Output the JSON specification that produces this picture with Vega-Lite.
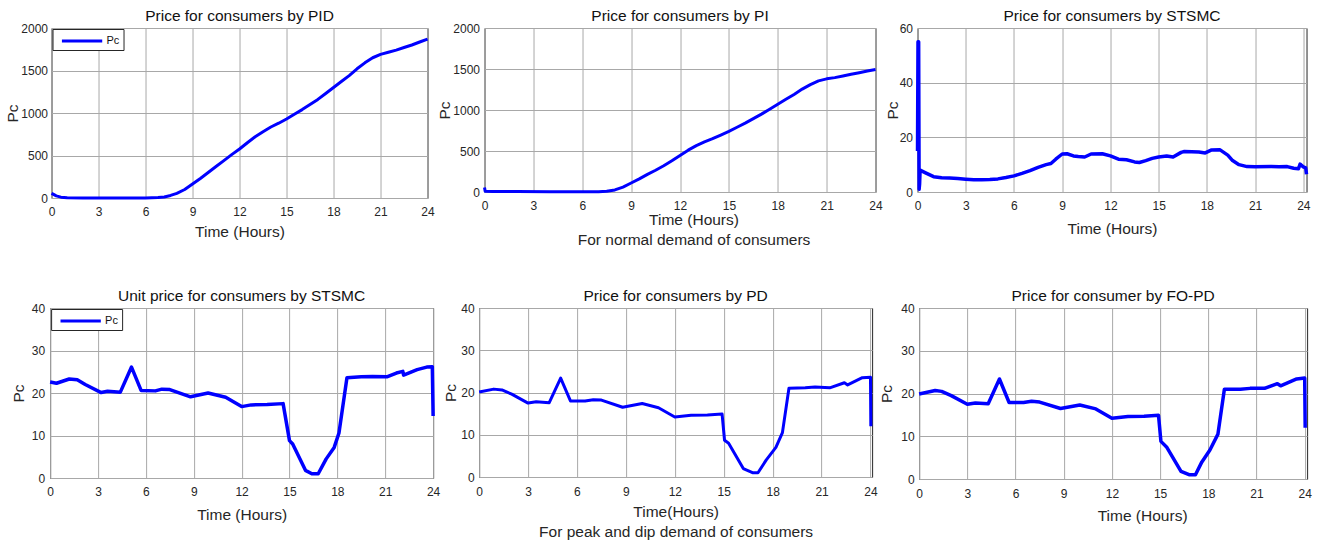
{
  "$schema": "https://vega.github.io/schema/vega-lite/v6.json",
  "background": "white",
  "padding": {"left": 5, "top": 8, "right": 2, "bottom": 2},
  "config": {
    "font": "Liberation Sans",
    "view": {"stroke": "#262626", "strokeWidth": 1},
    "axis": {
      "grid": true, "gridColor": "#a8a8a8", "gridWidth": 1,
      "domain": false, "ticks": false, "format": "d",
      "labelFontSize": 12, "labelColor": "#262626", "labelFont": "Liberation Sans",
      "titleFontSize": 15.5, "titleFontWeight": "normal", "titleColor": "#262626", "titleFont": "Liberation Sans"
    },
    "axisX": {"labelPadding": 8, "labelFlush": false, "titlePadding": 7, "titleLineHeight": 20},
    "axisY": {"labelPadding": 4, "titlePadding": 0},
    "title": {"fontSize": 15.5, "fontWeight": "normal", "color": "#111111", "offset": -2, "frame": "group", "anchor": "middle", "font": "Liberation Sans"},
    "line": {"color": "#0000ff", "strokeWidth": 3, "strokeJoin": "round"},
    "legend": {
      "orient": "top-left", "offset": 1, "title": null, "strokeColor": "#262626", "fillColor": "white",
      "padding": 4, "symbolType": "M-0.4,0H5.8", "symbolSize": 169, "symbolStrokeWidth": 3, "symbolStrokeColor": "#0000ff",
      "labelFontSize": 11, "labelColor": "#111111", "cornerRadius": 0, "labelOffset": 34
    }
  },
  "datasets": {
    "pid": [
      {"t": 0, "pc": 55}, {"t": 0.1, "pc": 45}, {"t": 0.3, "pc": 25}, {"t": 0.6, "pc": 10}, {"t": 1, "pc": 3},
      {"t": 2, "pc": 1}, {"t": 3, "pc": 0}, {"t": 4, "pc": 0}, {"t": 5, "pc": 0}, {"t": 6, "pc": 1},
      {"t": 6.8, "pc": 5}, {"t": 7.2, "pc": 12}, {"t": 7.6, "pc": 30}, {"t": 8, "pc": 55}, {"t": 8.5, "pc": 100},
      {"t": 9, "pc": 165}, {"t": 9.5, "pc": 230}, {"t": 10, "pc": 300}, {"t": 10.5, "pc": 370}, {"t": 11, "pc": 440},
      {"t": 11.5, "pc": 510}, {"t": 12, "pc": 576}, {"t": 12.5, "pc": 650}, {"t": 13, "pc": 720}, {"t": 13.5, "pc": 780},
      {"t": 14, "pc": 835}, {"t": 14.5, "pc": 880}, {"t": 15, "pc": 930}, {"t": 15.5, "pc": 985}, {"t": 16, "pc": 1040},
      {"t": 16.5, "pc": 1100}, {"t": 17, "pc": 1160}, {"t": 17.5, "pc": 1230}, {"t": 18, "pc": 1300}, {"t": 18.5, "pc": 1370},
      {"t": 19, "pc": 1440}, {"t": 19.5, "pc": 1520}, {"t": 20, "pc": 1590}, {"t": 20.5, "pc": 1650}, {"t": 21, "pc": 1690},
      {"t": 21.5, "pc": 1715}, {"t": 22, "pc": 1740}, {"t": 22.5, "pc": 1770}, {"t": 23, "pc": 1800}, {"t": 23.5, "pc": 1835},
      {"t": 24, "pc": 1870}
    ],
    "pi": [
      {"t": 0, "pc": 55}, {"t": 0.04, "pc": 8}, {"t": 0.5, "pc": 7}, {"t": 2, "pc": 5}, {"t": 4, "pc": 3},
      {"t": 6, "pc": 3}, {"t": 7, "pc": 4}, {"t": 7.5, "pc": 8}, {"t": 8, "pc": 25}, {"t": 8.5, "pc": 60},
      {"t": 9, "pc": 110}, {"t": 9.5, "pc": 160}, {"t": 10, "pc": 215}, {"t": 10.5, "pc": 265}, {"t": 11, "pc": 320},
      {"t": 11.5, "pc": 380}, {"t": 12, "pc": 445}, {"t": 12.5, "pc": 510}, {"t": 13, "pc": 565}, {"t": 13.5, "pc": 610},
      {"t": 14, "pc": 650}, {"t": 14.5, "pc": 695}, {"t": 15, "pc": 740}, {"t": 15.5, "pc": 790}, {"t": 16, "pc": 840},
      {"t": 16.5, "pc": 895}, {"t": 17, "pc": 950}, {"t": 17.5, "pc": 1010}, {"t": 18, "pc": 1070}, {"t": 18.5, "pc": 1130},
      {"t": 19, "pc": 1190}, {"t": 19.5, "pc": 1255}, {"t": 20, "pc": 1310}, {"t": 20.5, "pc": 1355}, {"t": 21, "pc": 1380},
      {"t": 21.5, "pc": 1395}, {"t": 22, "pc": 1415}, {"t": 22.5, "pc": 1435}, {"t": 23, "pc": 1455}, {"t": 23.5, "pc": 1475},
      {"t": 24, "pc": 1495}
    ],
    "stsmc": [
      {"t": 0, "pc": 15}, {"t": 0.03, "pc": 55}, {"t": 0.07, "pc": 55}, {"t": 0.1, "pc": 1}, {"t": 0.13, "pc": 3},
      {"t": 0.16, "pc": 8}, {"t": 0.5, "pc": 7}, {"t": 1, "pc": 5.6}, {"t": 1.5, "pc": 5.2}, {"t": 2, "pc": 5.1},
      {"t": 2.5, "pc": 4.9}, {"t": 3, "pc": 4.7}, {"t": 3.5, "pc": 4.5}, {"t": 4, "pc": 4.5}, {"t": 4.5, "pc": 4.6},
      {"t": 5, "pc": 4.8}, {"t": 5.5, "pc": 5.3}, {"t": 6, "pc": 5.9}, {"t": 6.5, "pc": 6.8}, {"t": 7, "pc": 7.8},
      {"t": 7.5, "pc": 9}, {"t": 8, "pc": 10}, {"t": 8.3, "pc": 10.4}, {"t": 8.6, "pc": 12}, {"t": 9, "pc": 13.9},
      {"t": 9.3, "pc": 14}, {"t": 9.7, "pc": 13.2}, {"t": 10, "pc": 13}, {"t": 10.4, "pc": 12.8}, {"t": 10.8, "pc": 13.9},
      {"t": 11.5, "pc": 14}, {"t": 12, "pc": 13.2}, {"t": 12.5, "pc": 12}, {"t": 13, "pc": 11.8}, {"t": 13.5, "pc": 11},
      {"t": 13.8, "pc": 10.8}, {"t": 14.2, "pc": 11.5}, {"t": 14.6, "pc": 12.3}, {"t": 15, "pc": 12.8}, {"t": 15.5, "pc": 13.2},
      {"t": 15.9, "pc": 12.8}, {"t": 16.4, "pc": 14.5}, {"t": 16.6, "pc": 14.8}, {"t": 17.5, "pc": 14.6}, {"t": 17.9, "pc": 14.3},
      {"t": 18.3, "pc": 15.4}, {"t": 18.8, "pc": 15.5}, {"t": 19.3, "pc": 13.5}, {"t": 19.6, "pc": 11.5}, {"t": 20, "pc": 10},
      {"t": 20.5, "pc": 9.3}, {"t": 21, "pc": 9.2}, {"t": 22, "pc": 9.3}, {"t": 22.5, "pc": 9.2}, {"t": 23, "pc": 9.3},
      {"t": 23.4, "pc": 8.7}, {"t": 23.7, "pc": 8.5}, {"t": 23.8, "pc": 10.2}, {"t": 24, "pc": 9.2}, {"t": 24.15, "pc": 8.8},
      {"t": 24.2, "pc": 6.5}
    ],
    "unit": [
      {"t": 0, "pc": 22.6}, {"t": 0.4, "pc": 22.3}, {"t": 1.2, "pc": 23.3}, {"t": 1.7, "pc": 23.1}, {"t": 2.2, "pc": 22},
      {"t": 3.2, "pc": 20.1}, {"t": 3.6, "pc": 20.4}, {"t": 4.4, "pc": 20.2}, {"t": 5.1, "pc": 26.1}, {"t": 5.7, "pc": 20.6},
      {"t": 6.6, "pc": 20.5}, {"t": 7, "pc": 20.9}, {"t": 7.5, "pc": 20.8}, {"t": 8.8, "pc": 19.1}, {"t": 9.9, "pc": 20},
      {"t": 11, "pc": 19}, {"t": 12, "pc": 16.8}, {"t": 12.6, "pc": 17.2}, {"t": 13.6, "pc": 17.3}, {"t": 14.6, "pc": 17.5},
      {"t": 15, "pc": 8.8}, {"t": 15.2, "pc": 8}, {"t": 16, "pc": 1.8}, {"t": 16.4, "pc": 1}, {"t": 16.8, "pc": 1},
      {"t": 17.3, "pc": 4.5}, {"t": 17.8, "pc": 7.2}, {"t": 18.1, "pc": 10.6}, {"t": 18.6, "pc": 23.6}, {"t": 19.5, "pc": 23.8},
      {"t": 20.2, "pc": 23.9}, {"t": 21.1, "pc": 23.8}, {"t": 21.7, "pc": 24.7}, {"t": 22.1, "pc": 25.1}, {"t": 22.15, "pc": 24.2},
      {"t": 23, "pc": 25.5}, {"t": 23.6, "pc": 26.1}, {"t": 23.95, "pc": 26.2}, {"t": 24, "pc": 14.6}
    ],
    "pd": [
      {"t": 0, "pc": 20.1}, {"t": 0.9, "pc": 20.8}, {"t": 1.4, "pc": 20.6}, {"t": 2, "pc": 19.6}, {"t": 3, "pc": 17.5},
      {"t": 3.5, "pc": 17.8}, {"t": 4.3, "pc": 17.6}, {"t": 5, "pc": 23.4}, {"t": 5.6, "pc": 18}, {"t": 6.5, "pc": 18},
      {"t": 7, "pc": 18.3}, {"t": 7.5, "pc": 18.2}, {"t": 8.8, "pc": 16.5}, {"t": 10, "pc": 17.4}, {"t": 11, "pc": 16.4},
      {"t": 12, "pc": 14.2}, {"t": 13, "pc": 14.6}, {"t": 14, "pc": 14.7}, {"t": 14.9, "pc": 14.9}, {"t": 15.05, "pc": 8.7},
      {"t": 15.3, "pc": 8}, {"t": 16.2, "pc": 2}, {"t": 16.8, "pc": 1}, {"t": 17.1, "pc": 1}, {"t": 17.6, "pc": 4},
      {"t": 18.2, "pc": 7}, {"t": 18.6, "pc": 10.5}, {"t": 19, "pc": 21}, {"t": 20, "pc": 21.1}, {"t": 20.6, "pc": 21.3},
      {"t": 21.5, "pc": 21.1}, {"t": 22.4, "pc": 22.3}, {"t": 22.6, "pc": 21.8}, {"t": 23.5, "pc": 23.5}, {"t": 24, "pc": 23.6},
      {"t": 24.02, "pc": 12}
    ],
    "fopd": [
      {"t": 0, "pc": 19.9}, {"t": 1, "pc": 20.7}, {"t": 1.4, "pc": 20.5}, {"t": 2, "pc": 19.5}, {"t": 3, "pc": 17.5},
      {"t": 3.5, "pc": 17.8}, {"t": 4.3, "pc": 17.6}, {"t": 5, "pc": 23.4}, {"t": 5.6, "pc": 17.9}, {"t": 6.5, "pc": 17.9},
      {"t": 7, "pc": 18.2}, {"t": 7.5, "pc": 18}, {"t": 8.8, "pc": 16.5}, {"t": 10, "pc": 17.3}, {"t": 11, "pc": 16.4},
      {"t": 12, "pc": 14.2}, {"t": 13, "pc": 14.6}, {"t": 14, "pc": 14.7}, {"t": 14.9, "pc": 14.9}, {"t": 15.05, "pc": 8.8},
      {"t": 15.4, "pc": 7.5}, {"t": 16.3, "pc": 1.8}, {"t": 16.8, "pc": 1}, {"t": 17.2, "pc": 1}, {"t": 17.6, "pc": 4},
      {"t": 18.1, "pc": 6.8}, {"t": 18.6, "pc": 10.5}, {"t": 19, "pc": 21}, {"t": 20, "pc": 21}, {"t": 20.6, "pc": 21.2},
      {"t": 21.5, "pc": 21.2}, {"t": 22.3, "pc": 22.3}, {"t": 22.5, "pc": 21.8}, {"t": 23.5, "pc": 23.4}, {"t": 24, "pc": 23.6},
      {"t": 24.03, "pc": 12}
    ]
  },
  "center": true,
  "spacing": 40,
  "vconcat": [
    {
      "spacing": 1,
      "resolve": {"scale": {"color": "independent"}, "legend": {"color": "independent"}},
      "hconcat": [
        {
          "width": 376, "height": 170,
          "title": "Price for consumers by PID",
          "data": {"name": "pid"},
          "mark": {"type": "line"},
          "encoding": {
            "x": {"field": "t", "type": "quantitative", "scale": {"domain": [0, 24], "nice": false, "zero": false},
                  "axis": {"values": [0, 3, 6, 9, 12, 15, 18, 21, 24], "title": "Time (Hours)", "titlePadding": 7}},
            "y": {"field": "pc", "type": "quantitative", "scale": {"domain": [0, 2000], "nice": false},
                  "axis": {"values": [0, 500, 1000, 1500, 2000], "title": "Pc", "titlePadding": 0, "labelPadding": 4}},
            "color": {"datum": "Pc", "scale": {"range": ["#0000ff"]}}
          }
        },
        {
          "width": 391, "height": 164,
          "title": "Price for consumers by PI",
          "data": {"name": "pi"},
          "mark": {"type": "line"},
          "encoding": {
            "x": {"field": "t", "type": "quantitative", "scale": {"domain": [0, 24], "nice": false, "zero": false},
                  "axis": {"values": [0, 3, 6, 9, 12, 15, 18, 21, 24], "title": ["Time (Hours)", "For normal demand of consumers"], "titlePadding": 1, "titleX": 209}},
            "y": {"field": "pc", "type": "quantitative", "scale": {"domain": [0, 2000], "nice": false},
                  "axis": {"values": [0, 500, 1000, 1500, 2000], "title": "Pc", "titlePadding": 0, "labelPadding": 5}}
          }
        },
        {
          "width": 389, "height": 164,
          "title": "Price for consumers by STSMC",
          "data": {"name": "stsmc"},
          "mark": {"type": "line", "strokeWidth": 3.5},
          "encoding": {
            "x": {"field": "t", "type": "quantitative", "scale": {"domain": [0, 24.2], "nice": false, "zero": false},
                  "axis": {"values": [0, 3, 6, 9, 12, 15, 18, 21, 24], "title": "Time (Hours)", "titlePadding": 10}},
            "y": {"field": "pc", "type": "quantitative", "scale": {"domain": [0, 60], "nice": false},
                  "axis": {"values": [0, 20, 40, 60], "title": "Pc", "titlePadding": -1.5, "labelPadding": 5}}
          }
        }
      ]
    },
    {
      "spacing": 1,
      "resolve": {"scale": {"color": "independent"}, "legend": {"color": "independent"}},
      "hconcat": [
        {
          "width": 383, "height": 170,
          "title": "Unit price for consumers by STSMC",
          "data": {"name": "unit"},
          "mark": {"type": "line", "strokeWidth": 3.5},
          "encoding": {
            "x": {"field": "t", "type": "quantitative", "scale": {"domain": [0, 24], "nice": false, "zero": false},
                  "axis": {"values": [0, 3, 6, 9, 12, 15, 18, 21, 24], "title": "Time (Hours)", "titlePadding": 10}},
            "y": {"field": "pc", "type": "quantitative", "scale": {"domain": [0, 40], "nice": false},
                  "axis": {"values": [0, 10, 20, 30, 40], "title": "Pc", "titlePadding": 5, "labelPadding": 5.5}},
            "color": {"datum": "Pc", "scale": {"range": ["#0000ff"]}}
          }
        },
        {
          "width": 393, "height": 169,
          "title": "Price for consumers by PD",
          "data": {"name": "pd"},
          "mark": {"type": "line"},
          "encoding": {
            "x": {"field": "t", "type": "quantitative", "scale": {"domain": [0, 24.1], "nice": false, "zero": false},
                  "axis": {"values": [0, 3, 6, 9, 12, 15, 18, 21, 24], "title": ["Time(Hours)", "For peak and dip demand of consumers"], "titlePadding": 7, "labelPadding": 9}},
            "y": {"field": "pc", "type": "quantitative", "scale": {"domain": [0, 40], "nice": false},
                  "axis": {"values": [0, 10, 20, 30, 40], "title": "Pc", "titlePadding": 2.5, "labelPadding": 5}}
          }
        },
        {
          "width": 388, "height": 171,
          "title": "Price for consumer by FO-PD",
          "data": {"name": "fopd"},
          "mark": {"type": "line", "strokeWidth": 3.5},
          "encoding": {
            "x": {"field": "t", "type": "quantitative", "scale": {"domain": [0, 24.15], "nice": false, "zero": false},
                  "axis": {"values": [0, 3, 6, 9, 12, 15, 18, 21, 24], "title": "Time (Hours)", "titlePadding": 9, "labelPadding": 9, "titleX": 223}},
            "y": {"field": "pc", "type": "quantitative", "scale": {"domain": [0, 40], "nice": false},
                  "axis": {"values": [0, 10, 20, 30, 40], "title": "Pc", "titlePadding": 6, "labelPadding": 5}}
          }
        }
      ]
    }
  ]
}
